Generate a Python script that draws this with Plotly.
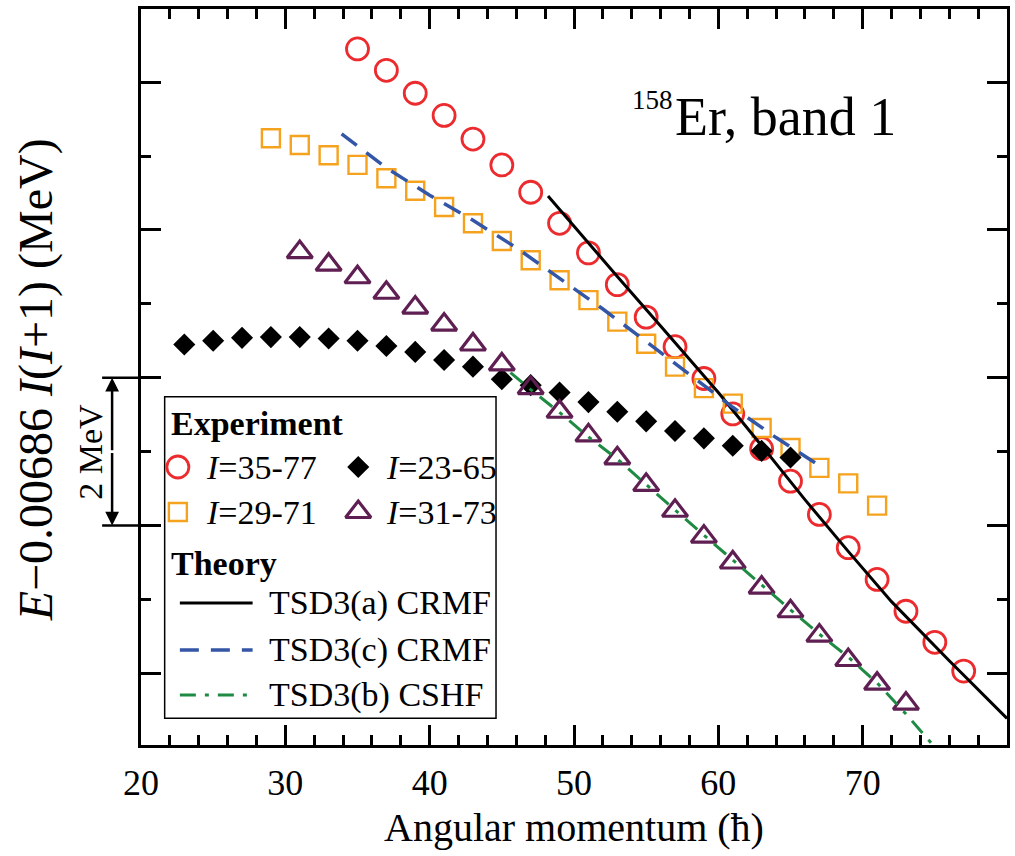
import plotly.graph_objects as go

# ---------------------------------------------------------------------------
# 158Er, band 1 : reduced energy  E - 0.00686 I(I+1)  (MeV) vs angular momentum
# ---------------------------------------------------------------------------

# Experimental sequences (spin in hbar, reduced energy in MeV)
spin_circ = list(range(35, 78, 2))
e_circ = [4.45, 4.16, 3.85, 3.55, 3.23, 2.88, 2.51, 2.09, 1.69, 1.26,
          0.82, 0.42, -0.01, -0.49, -0.96, -1.40, -1.85, -2.30, -2.73, -3.16,
          -3.58, -3.97]

spin_sq = list(range(29, 72, 2))
e_sq = [3.24, 3.15, 3.01, 2.88, 2.70, 2.53, 2.31, 2.09, 1.85, 1.59,
        1.32, 1.05, 0.76, 0.46, 0.15, -0.14, -0.35, -0.68, -0.95, -1.22,
        -1.43, -1.73]

spin_dia = list(range(23, 66, 2))
e_dia = [0.45, 0.50, 0.54, 0.55, 0.55, 0.53, 0.50, 0.43, 0.35, 0.24,
         0.15, -0.02, -0.10, -0.20, -0.33, -0.46, -0.59, -0.72, -0.82, -0.92,
         -0.99, -1.08]

spin_tri = list(range(31, 74, 2))
e_tri = [1.70, 1.53, 1.36, 1.15, 0.95, 0.72, 0.45, 0.18, -0.14, -0.46,
         -0.78, -1.09, -1.45, -1.80, -2.15, -2.50, -2.84, -3.16, -3.49, -3.82,
         -4.14, -4.41]

# Theoretical bands
spin_tsd3a = [48.2, 50, 53, 56, 60, 63, 66, 69, 72, 76, 80]
e_tsd3a = [2.46, 2.05, 1.37, 0.70, -0.20, -0.92, -1.65, -2.35, -3.03, -3.83, -4.61]

spin_tsd3c = [33.9, 37, 40, 43, 46, 49, 52, 55, 58, 61, 64, 66.7]
e_tsd3c = [3.30, 2.84, 2.47, 2.13, 1.76, 1.34, 0.93, 0.49, 0.05, -0.40, -0.81, -1.15]

spin_tsd3b = [45.6, 47, 49, 51, 53, 55, 57, 59, 61, 63, 65, 67, 69, 71, 73, 75]
e_tsd3b = [0.07, -0.16, -0.47, -0.80, -1.10, -1.45, -1.79, -2.13, -2.47, -2.81,
           -3.14, -3.47, -3.78, -4.13, -4.55, -5.00]

x_tickvals = [20, 30, 40, 50, 60, 70]
exp_labels = ["<i>I</i>=35-77", "<i>I</i>=23-65", "<i>I</i>=29-71", "<i>I</i>=31-73"]
theory_labels = ["TSD3(a) CRMF", "TSD3(c) CRMF", "TSD3(b) CSHF"]

# ---------------------------------------------------------------------------
SERIF = "Liberation Serif, Times New Roman, serif"
RED, ORANGE, PURPLE = "#EC2B2F", "#F5A31F", "#5F1F52"
BLUE, GREEN = "#3456A6", "#1F8A43"

mk_circ = dict(symbol="circle-open", size=22, color=RED, line=dict(width=2.8, color=RED))
mk_sq = dict(symbol="square-open", size=18, color=ORANGE, line=dict(width=2.4, color=ORANGE))
mk_dia = dict(symbol="diamond", size=17, color="black", line=dict(width=0))
mk_tri = dict(symbol="triangle-up-open", size=22, color=PURPLE, line=dict(width=3.2, color=PURPLE))

ln_a = dict(color="black", width=3)
ln_c = dict(color=BLUE, width=3.5, dash="19px,12px")
ln_b = dict(color=GREEN, width=3, dash="16px,9px,4px,9px")

fig = go.Figure()

# experimental points
for xs, ys, mk in [(spin_circ, e_circ, mk_circ), (spin_sq, e_sq, mk_sq),
                   (spin_dia, e_dia, mk_dia), (spin_tri, e_tri, mk_tri)]:
    fig.add_trace(go.Scatter(x=xs, y=ys, mode="markers", marker=mk,
                             showlegend=False, cliponaxis=False))

# theory curves
for xs, ys, ln in [(spin_tsd3a, e_tsd3a, ln_a), (spin_tsd3c, e_tsd3c, ln_c),
                   (spin_tsd3b, e_tsd3b, ln_b)]:
    fig.add_trace(go.Scatter(x=xs, y=ys, mode="lines", line=ln, showlegend=False))

# ---------------------------------------------------------------------------
# Legend panel drawn in its own small coordinate frame (x2/y2, px-like units)
W_PANEL, H_PANEL = 334, 323
PLOT_L, PLOT_R, PLOT_T, PLOT_B = 141, 1010, 9, 745
box_l, box_t = 164, 396
dom_x = [(box_l - PLOT_L) / (PLOT_R - PLOT_L), (box_l + W_PANEL - PLOT_L) / (PLOT_R - PLOT_L)]
dom_y = [(PLOT_B - (box_t + H_PANEL)) / (PLOT_B - PLOT_T), (PLOT_B - box_t) / (PLOT_B - PLOT_T)]

exp_marks = [mk_circ, mk_dia, mk_sq, mk_tri]
exp_pos = [(14, 71), (195, 71), (14, 116), (195, 116)]
for mk, (px, py) in zip(exp_marks, exp_pos):
    fig.add_trace(go.Scatter(x=[px], y=[py], mode="markers", marker=mk,
                             xaxis="x2", yaxis="y2", showlegend=False))

theory_lines = [ln_a, ln_c, ln_b]
theory_y = [207, 254, 299]
for ln, py in zip(theory_lines, theory_y):
    fig.add_trace(go.Scatter(x=[16, 89], y=[py, py], mode="lines", line=ln,
                             xaxis="x2", yaxis="y2", showlegend=False))

fig.add_shape(type="rect", xref="x2", yref="y2", x0=0, x1=W_PANEL, y0=0, y1=H_PANEL,
              line=dict(color="black", width=3), fillcolor="white", layer="below")

leg_font = dict(family=SERIF, size=34, color="black")
fig.add_annotation(text="<b>Experiment</b>", xref="x2", yref="y2", x=5, y=27,
                   xanchor="left", yanchor="middle", showarrow=False, font=leg_font)
fig.add_annotation(text="<b>Theory</b>", xref="x2", yref="y2", x=5, y=167,
                   xanchor="left", yanchor="middle", showarrow=False, font=leg_font)
for lab, (px, py) in zip(exp_labels, exp_pos):
    fig.add_annotation(text=lab, xref="x2", yref="y2", x=px + 26, y=py,
                       xanchor="left", yanchor="middle", showarrow=False, font=leg_font)
for lab, py in zip(theory_labels, theory_y):
    fig.add_annotation(text=lab, xref="x2", yref="y2", x=103, y=py,
                       xanchor="left", yanchor="middle", showarrow=False, font=leg_font)

# ---------------------------------------------------------------------------
# Title inside the frame
fig.add_annotation(text="158", xref="paper", yref="paper", x=0.565, y=0.876,
                   xanchor="left", yanchor="middle", showarrow=False,
                   font=dict(family=SERIF, size=27, color="black"))
fig.add_annotation(text="Er, band 1", xref="paper", yref="paper", x=0.6145, y=0.853,
                   xanchor="left", yanchor="middle", showarrow=False,
                   font=dict(family=SERIF, size=54, color="black"))

# Axis titles
fig.add_annotation(text="Angular momentum (ħ)", xref="paper", yref="paper",
                   x=0.5, y=-0.1126, xanchor="center", yanchor="middle", showarrow=False,
                   font=dict(family=SERIF, size=40, color="black"))
fig.add_annotation(text="<i>E</i>−0.00686 <i>I</i>(<i>I</i>+1) (MeV)", xref="paper", yref="paper",
                   x=-0.1208, y=0.496, xanchor="center", yanchor="middle", textangle=-90,
                   showarrow=False, font=dict(family=SERIF, size=48, color="black"))

# 2 MeV scale bar on the left of the frame
bar_x = (112 - PLOT_L) / (PLOT_R - PLOT_L)
cap_x0 = (102 - PLOT_L) / (PLOT_R - PLOT_L)
for yv in (0, -2):
    fig.add_shape(type="line", xref="paper", yref="y", x0=cap_x0, x1=0, y0=yv, y1=yv,
                  line=dict(color="black", width=2.5))
for yv, ay in ((0, 74), (-2, -74)):
    fig.add_annotation(text="", xref="paper", yref="y", x=bar_x, y=yv, ax=0, ay=ay,
                       showarrow=True, arrowhead=2, arrowsize=1.1, arrowwidth=2.5,
                       arrowcolor="black")
fig.add_annotation(text="2 MeV", xref="paper", yref="y",
                   x=(90 - PLOT_L) / (PLOT_R - PLOT_L), y=-1, textangle=-90,
                   xanchor="center", yanchor="middle", showarrow=False,
                   font=dict(family=SERIF, size=34, color="black"))

# ---------------------------------------------------------------------------
axis_common = dict(showline=True, linecolor="black", linewidth=3, mirror="allticks",
                   ticks="inside", ticklen=20, tickwidth=2.5, tickcolor="black",
                   showgrid=False, zeroline=False)

fig.update_layout(
    width=1015, height=856,
    margin=dict(l=PLOT_L, r=1015 - PLOT_R, t=PLOT_T, b=856 - PLOT_B),
    paper_bgcolor="white", plot_bgcolor="white",
    font=dict(family=SERIF, color="black"),
    xaxis=dict(range=[20, 80], tickmode="array", tickvals=x_tickvals,
               tickfont=dict(family=SERIF, size=36), ticklabelstandoff=4,
               minor=dict(dtick=2, tick0=20, ticks="inside", ticklen=10,
                          tickwidth=2.5, tickcolor="black"),
               **axis_common),
    yaxis=dict(range=[-4.97, 4.99], dtick=2, tick0=0, showticklabels=False,
               minor=dict(dtick=1, tick0=0, ticks="inside", ticklen=10,
                          tickwidth=2.5, tickcolor="black"),
               **axis_common),
    xaxis2=dict(domain=dom_x, range=[0, W_PANEL], visible=False, anchor="y2",
                fixedrange=True),
    yaxis2=dict(domain=dom_y, range=[H_PANEL, 0], visible=False, anchor="x2",
                fixedrange=True),
    showlegend=False,
)

fig.write_html("out.html")
